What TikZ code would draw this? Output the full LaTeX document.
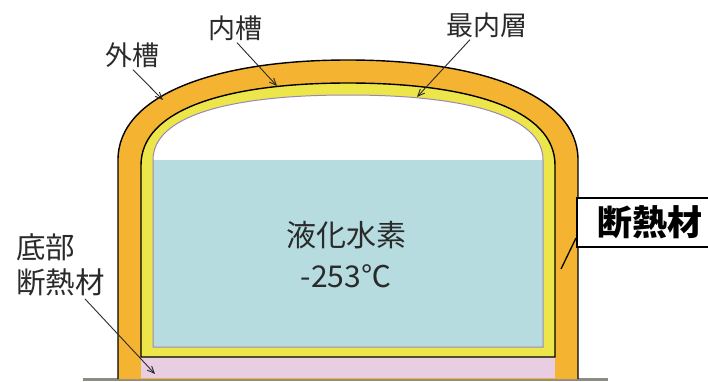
\documentclass[tikz,border=0pt]{standalone}
\usepackage{fontspec}
\newfontfamily\jp{Noto Sans CJK JP}
\usetikzlibrary{arrows.meta}
\definecolor{wallorange}{HTML}{F4B431}
\definecolor{layeryellow}{HTML}{ECE64A}
\definecolor{lh2blue}{HTML}{B6DCE0}
\definecolor{basepink}{HTML}{E9CDE1}
\definecolor{filmpurple}{HTML}{9A86B8}
\definecolor{groundgray}{HTML}{8C8C84}
\definecolor{labelgray}{HTML}{2A2A2A}

\begin{document}
\begin{tikzpicture}[x=1pt, y=-1pt,
lbl/.style={font=\jp\fontsize{27}{35}\selectfont, text=labelgray, inner sep=2pt},
pointer/.style={draw=labelgray, line width=0.9pt, -{Straight Barb[length=7pt, width=6pt]}},
tank/.style={draw=black, line width=1.4pt}]
\tikzstyle{boxlbl}=[draw=black, line width=2pt, fill=white, anchor=west,
  font=\jp\bfseries\fontsize{35}{40}\selectfont, inner xsep=20pt,
  minimum height=49pt, text width=140pt]
 \def\yb{379}
\clip (0,0) rectangle (708,381);
%ground
\draw[groundgray, line width=3pt] (83,\yb) -- (608,\yb);
%outer tank and insulation
\fill[wallorange] (118,\yb) -- (118,160) .. controls (118,95) and (215,60) .. (348,60)
  .. controls (481,60) and (578,95) .. (578,160) -- (578,\yb) -- cycle;
\draw[tank] (118,\yb) -- (118,160) .. controls (118,95) and (215,60) .. (348,60)
  .. controls (481,60) and (578,95) .. (578,160) -- (578,\yb);
\fill[basepink] (141,357) rectangle (555,377.5);
%inner tank
\filldraw[tank, fill=layeryellow] (141,357) -- (141,165) .. controls (141,110) and (225,83) .. (348,83)
  .. controls (471,83) and (555,110) .. (555,165) -- (555,357) -- cycle;
%innermost layer and liquid
\fill[white] (153,347) -- (153,160) .. controls (153,115) and (232,95) .. (348,95)
  .. controls (464,95) and (543,115) .. (543,160) -- (543,347) -- cycle;
\fill[lh2blue] (153,160) rectangle (543,347);
\draw[filmpurple, line width=1pt] (153,347) -- (153,160) .. controls (153,115) and (232,95) .. (348,95)
  .. controls (464,95) and (543,115) .. (543,160) -- (543,347) -- cycle;
%labels
\node[lbl, font=\jp\fontsize{30}{36}\selectfont] (liq) at (346,235) {液化水素};
\node[lbl, font=\jp\fontsize{30}{36}\selectfont] (temp) at (346,276) {-253℃};
\node[lbl] (lblOuter) at (132,55) {外槽};
\node[lbl] (lblInner) at (235,28) {内槽};
\node[lbl] (lblFilm) at (487,25) {最内層};
\node[lbl, font=\jp\fontsize{29.5}{35}\selectfont, align=left, anchor=north west] (lblBase) at (14,232) {底部\\断熱材};
\node[boxlbl] (ins) at (576,222.5) {断熱材};
%pointers
\coordinate (pOuter) at (163,100);
\coordinate (pInner) at (277,86);
\coordinate (pFilm) at (417,97);
\coordinate (pBase) at (155,374);
\coordinate (pWall) at (561,269);
\draw[pointer] ([xshift=1pt]lblOuter.south) -- (pOuter);
\draw[pointer] ([xshift=2pt]lblInner.south) -- (pInner);
\draw[pointer] ([xshift=-17pt]lblFilm.south) -- (pFilm);
\draw[pointer] ([xshift=-22pt]lblBase.south east) -- (pBase);
\draw[black, line width=1.3pt] ([yshift=10pt]ins.south west) -- (pWall);
\end{tikzpicture}
\end{document}
